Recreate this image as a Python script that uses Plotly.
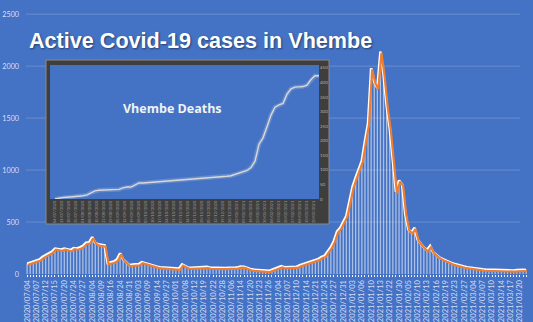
import plotly.graph_objects as go
import pandas as pd

# ---------------- data ----------------
tick_labels = [
    "2020/07/04", "2020/07/07", "2020/07/12", "2020/07/15", "2020/07/20", "2020/07/24",
    "2020/07/27", "2020/08/04", "2020/08/09", "2020/08/16", "2020/08/24", "2020/08/31",
    "2020/09/03", "2020/09/09", "2020/09/14", "2020/09/27", "2020/10/01", "2020/10/08",
    "2020/10/12", "2020/10/19", "2020/10/22", "2020/10/28", "2020/11/06", "2020/11/14",
    "2020/11/20", "2020/11/23", "2020/11/26", "2020/12/04", "2020/12/07", "2020/12/10",
    "2020/12/14", "2020/12/21", "2020/12/24", "2020/12/27", "2020/12/31", "2021/01/03",
    "2021/01/06", "2021/01/10", "2021/01/13", "2021/01/22", "2021/01/30", "2021/02/05",
    "2021/02/10", "2021/02/13", "2021/02/16", "2021/02/19", "2021/02/23", "2021/02/27",
    "2021/03/04", "2021/03/07", "2021/03/10", "2021/03/14", "2021/03/17", "2021/03/20",
]
labels_every = 3  # one tick label per this many reports
y_ticks = [0, 500, 1000, 1500, 2000, 2500]

active_cases = [
    100, 110, 125, 130, 140, 165, 180, 200, 215, 245,
    240, 235, 245, 240, 230, 250, 245, 255, 270, 300,
    305, 355, 300, 285, 280, 275, 105, 115, 120, 140,
    200, 140, 110, 85, 90, 95, 95, 115, 105, 95,
    90, 80, 70, 65, 62, 60, 58, 55, 50, 52,
    92, 75, 62, 60, 62, 65, 68, 70, 68, 62,
    60, 62, 60, 58, 58, 60, 58, 60, 65, 72,
    70, 55, 48, 42, 38, 36, 35, 32, 30, 40,
    50, 58, 75, 65, 66, 68, 67, 70, 85, 95,
    100, 110, 120, 135, 145, 165, 175, 220, 260, 320,
    410, 445, 500, 560, 700, 840, 930, 1020, 1090, 1280,
    1450, 1980, 1850, 1790, 2140, 1920, 1620, 1400, 1060, 790,
    900, 860, 580, 430, 400, 445, 330, 290, 255, 230,
    270, 210, 185, 160, 145, 130, 115, 105, 95, 85,
    78, 72, 65, 60, 55, 50, 47, 45, 43, 42,
    40, 38, 36, 35, 34, 33, 32, 34, 38, 42,
    40, 38,
]

deaths = [
    0, 3, 5, 6, 7, 8, 9, 11, 14, 22,
    28, 30, 31, 32, 32, 33, 33, 38, 41, 41,
    48, 55, 55, 56, 57, 58, 61, 62, 63, 64,
    64, 65, 66, 67, 68, 70, 71, 72, 73, 73,
    74, 74, 75, 78, 80, 84, 88, 92, 98, 108,
    130, 188, 210, 248, 288, 315, 323, 328, 360, 378,
    384, 385, 386, 391, 410, 423, 423,
]
death_dates = pd.date_range("2020-07-04", periods=len(deaths), freq="4D")
death_ticks = pd.date_range("2020-07-04", death_dates[-1], freq="7D")
death_yticks = list(range(0, 451, 50))

# ---------------- figure ----------------
N = len(active_cases)
idx = list(range(N))
W, H = 533, 322
L, R, T, B = 26, 5, 10, 48
pw, ph = W - L - R, H - T - B
xr = [-0.35, N - 0.4]
yr = [0, 2540]
dx = (xr[1] - xr[0]) / pw
dy = (yr[1] - yr[0]) / ph

bg = "#4472C4"
fig = go.Figure()

fig.add_trace(go.Bar(x=idx, y=active_cases, marker=dict(color="rgba(255,255,255,0.55)", line=dict(width=0)),
                     hoverinfo="skip"))
# orange shadow line (offset axes)
fig.add_trace(go.Scatter(x=idx, y=active_cases, mode="lines", xaxis="x2", yaxis="y2",
                         line=dict(color="#ED7D31", width=2.2), hoverinfo="skip"))
fig.add_trace(go.Scatter(x=idx, y=active_cases, mode="lines",
                         line=dict(color="white", width=2.6), hoverinfo="skip"))

# inset deaths
fig.add_trace(go.Scatter(x=death_dates, y=deaths, mode="lines", xaxis="x3", yaxis="y3",
                         line=dict(color="rgba(220,220,220,0.22)", width=4.5), hoverinfo="skip"))
fig.add_trace(go.Scatter(x=death_dates, y=deaths, mode="lines", xaxis="x3", yaxis="y3",
                         line=dict(color="#d9d9d9", width=1.4), hoverinfo="skip"))


def px_x(p):
    return (p - L) / pw


def px_y(p):
    return (H - B - p) / ph


inset_xdom = [px_x(50), px_x(319)]
inset_ydom = [px_y(199), px_y(65)]

tickfont = dict(family="Lato", size=7.6, color="rgba(225,232,250,0.92)")

# main horizontal gridlines as shapes so the inset can cover them
shapes = [dict(type="line", xref="paper", yref="y", x0=0, x1=px_x(520), y0=v, y1=v,
               line=dict(color="rgba(255,255,255,0.2)", width=1), layer="below")
          for v in y_ticks[1:]]
shapes.append(dict(type="rect", xref="paper", yref="paper", x0=px_x(46), x1=px_x(329),
                   y0=px_y(224), y1=px_y(60), fillcolor="#3e3e3e",
                   line=dict(color="#8a8a8a", width=1), layer="below"))
# inset grid (same lower layer, drawn after the panel)
for d in death_ticks:
    shapes.append(dict(type="line", xref="x3", yref="paper", x0=d, x1=d,
                       y0=inset_ydom[0], y1=inset_ydom[1],
                       line=dict(color="#555555", width=1), layer="below"))
for v in death_yticks:
    shapes.append(dict(type="line", xref="paper", yref="y3", x0=inset_xdom[0], x1=inset_xdom[1],
                       y0=v, y1=v, line=dict(color="#585858", width=1), layer="below"))

fig.update_layout(
    width=W, height=H,
    margin=dict(l=L, r=R, t=T, b=B, autoexpand=False),
    paper_bgcolor=bg, plot_bgcolor=bg,
    showlegend=False, bargap=0.58,
    xaxis=dict(range=xr, tickmode="array", automargin=False,
               tickvals=idx[::labels_every][:len(tick_labels)], ticktext=tick_labels,
               tickangle=-90, tickfont=tickfont, showgrid=False, zeroline=False,
               ticks="outside", ticklen=2, tickcolor="white",
               minor=dict(tickmode="linear", tick0=0, dtick=1, ticks="outside", ticklen=2,
                          tickcolor="rgba(255,255,255,0.9)", showgrid=False),
               showline=False),
    yaxis=dict(range=yr, tickvals=y_ticks, automargin=False,
               tickfont=dict(family="Lato", size=7.2, color="rgba(225,232,250,0.95)"),
               showgrid=False, zeroline=False, ticklabelstandoff=6),
    xaxis2=dict(range=[xr[0] - dx, xr[1] - dx], overlaying="x", visible=False),
    yaxis2=dict(range=[yr[0] + 1.2 * dy, yr[1] + 1.2 * dy], overlaying="y", visible=False),
    xaxis3=dict(domain=inset_xdom, anchor="y3", type="date", automargin=False,
                range=[death_dates[0] - pd.Timedelta(days=5), death_dates[-1]],
                tickmode="array", tickvals=death_ticks, tickformat="%d/%m/%Y",
                tickangle=-90, tickfont=dict(family="Lato", size=4, color="#9a9a9a"),
                showgrid=False, zeroline=False, showline=False),
    yaxis3=dict(domain=inset_ydom, anchor="x3", side="right", range=[0, 460],
                automargin=False, tickvals=death_yticks,
                tickfont=dict(family="Lato", size=4.5, color="#b0b0b0"),
                showgrid=False, zeroline=False, showline=False),
    shapes=shapes,
    annotations=[
        dict(text="<b>Active Covid-19 cases in Vhembe</b>", xref="paper", yref="paper",
             x=px_x(27), y=px_y(40), xanchor="left", yanchor="middle", showarrow=False,
             font=dict(family="Liberation Sans", size=21.6, color="white",
                       shadow="1px 1px 2px rgba(0,0,0,0.45)")),
        dict(text="<b>Vhembe Deaths</b>", xref="paper", yref="paper",
             x=px_x(172), y=px_y(108), xanchor="center", yanchor="middle", showarrow=False,
             font=dict(family="Open Sans", size=12.5, color="#f2f2f2")),
    ],
)

fig.write_html("out.html")
